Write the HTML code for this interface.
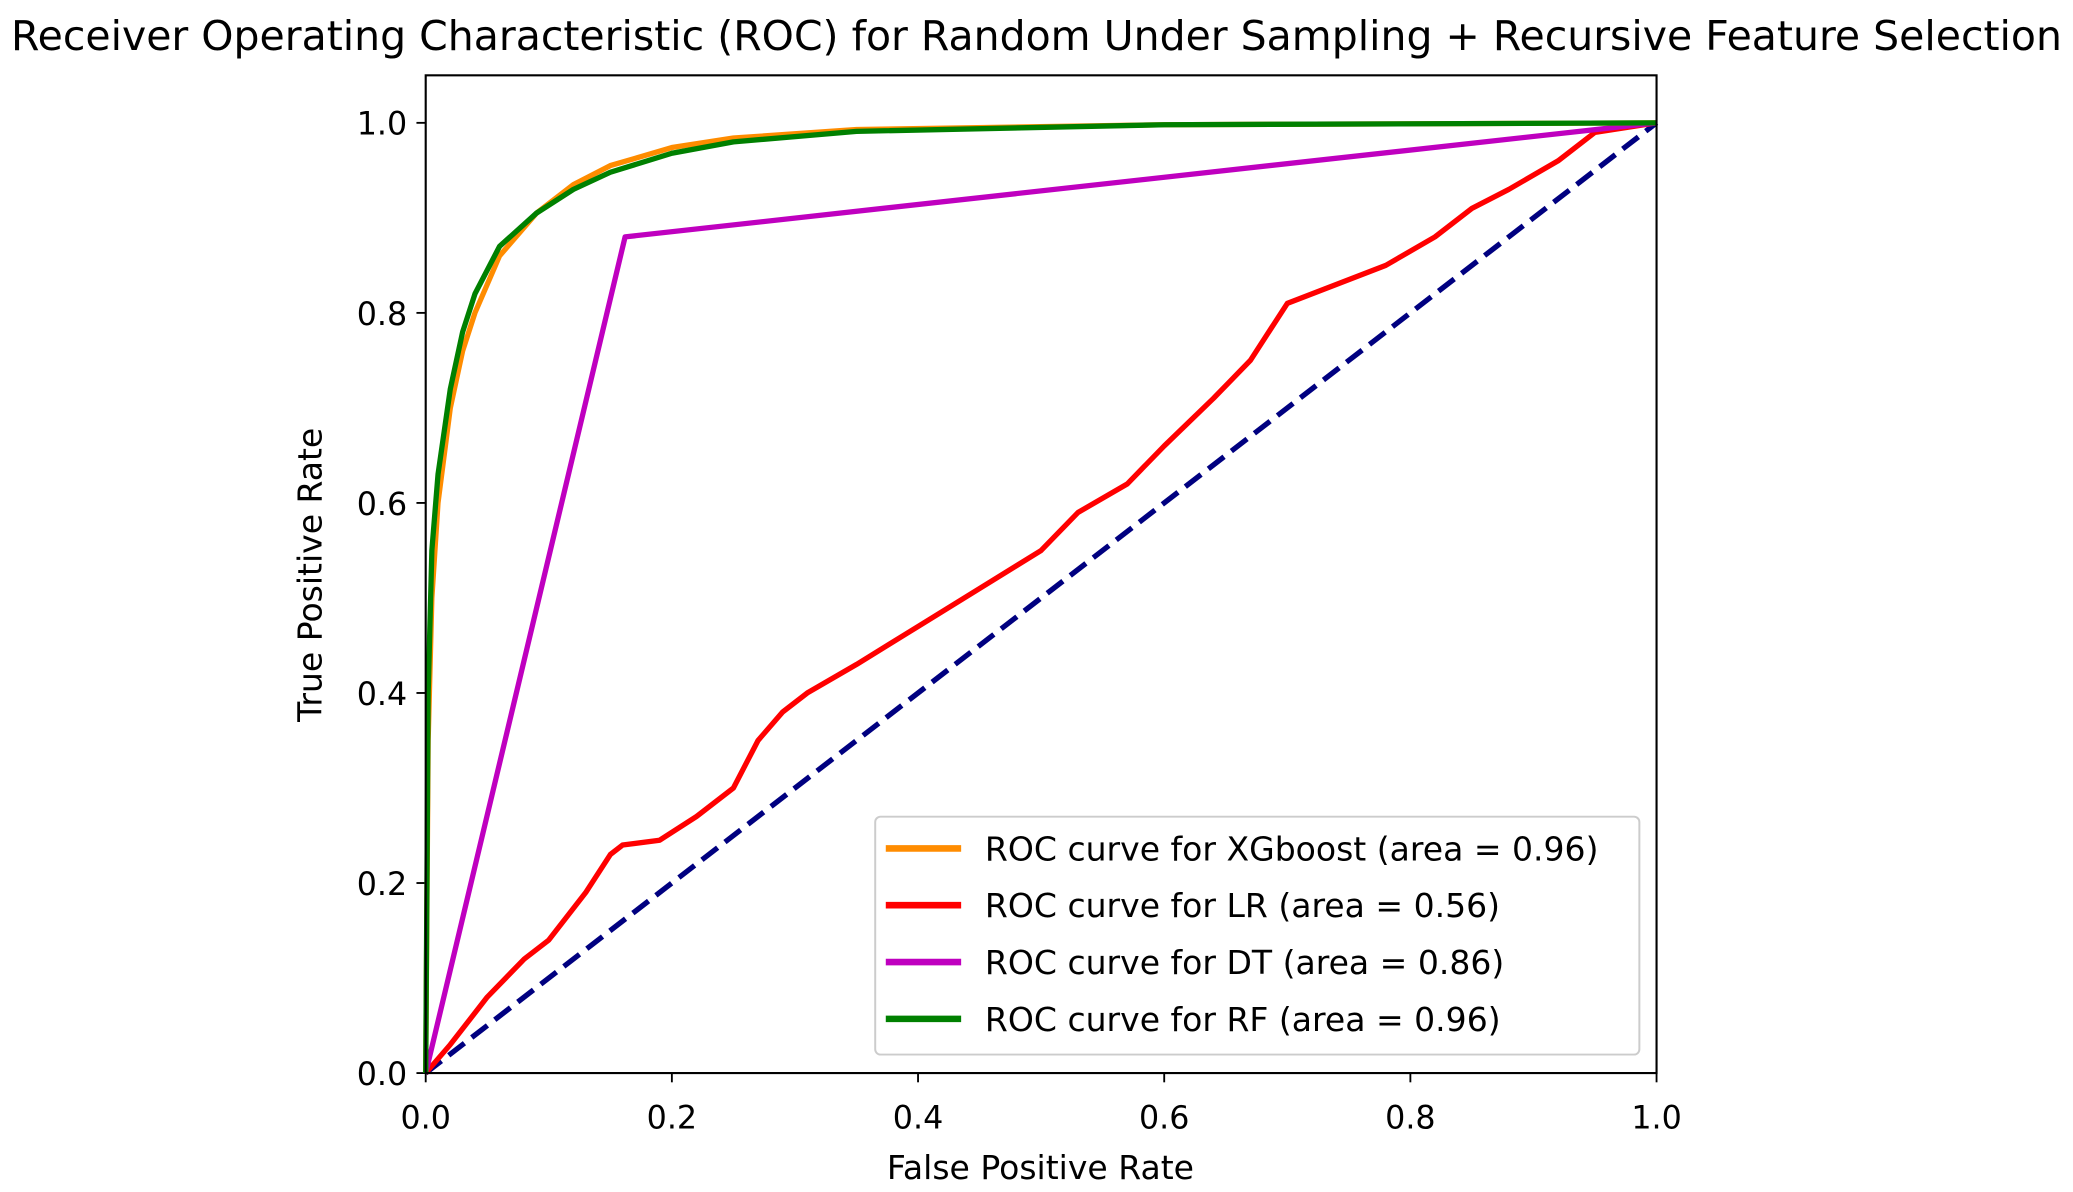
<!DOCTYPE html>
<html><head><meta charset="utf-8"><style>
html,body{margin:0;padding:0;background:#fff;}
svg{display:block;font-family:"DejaVu Sans","Liberation Sans",sans-serif;}
</style></head><body>
<svg id="chart" width="2073" height="1192" viewBox="0 0 1568 902" preserveAspectRatio="none" xmlns="http://www.w3.org/2000/svg">
<text x="784" y="38" text-anchor="middle" font-size="31" fill="#000">Receiver Operating Characteristic (ROC) for Random Under Sampling + Recursive Feature Selection</text>
<g id="ticks"></g>
<g id="series"></g>
<rect x="322" y="57" width="931" height="755" fill="none" stroke="#000" stroke-width="1.6"/>
<text x="787" y="892" text-anchor="middle" font-size="25">False Positive Rate</text>
<text transform="translate(243,435) rotate(-90)" text-anchor="middle" font-size="25">True Positive Rate</text>
<g>
<rect x="662" y="618" width="578" height="180" rx="4" fill="#fff" fill-opacity="0.85" stroke="#ccc" stroke-width="1.5"/>
<g id="legend-items"></g>
</g>
</svg>
<script>
const xTicks=[0,0.2,0.4,0.6,0.8,1.0];
const yTicks=[0,0.2,0.4,0.6,0.8,1.0];
const xgbFpr=[0,0.002,0.005,0.01,0.02,0.03,0.04,0.06,0.09,0.12,0.15,0.2,0.25,0.35,0.6,1];
const xgbTpr=[0,0.35,0.5,0.6,0.7,0.76,0.8,0.86,0.905,0.935,0.955,0.974,0.984,0.993,0.998,1];
const rfFpr=[0,0.002,0.005,0.01,0.02,0.03,0.04,0.06,0.09,0.12,0.15,0.2,0.25,0.35,0.6,1];
const rfTpr=[0,0.4,0.55,0.63,0.72,0.78,0.82,0.87,0.905,0.93,0.948,0.968,0.98,0.991,0.998,1];
const lrFpr=[0,0.02,0.05,0.08,0.1,0.13,0.15,0.16,0.19,0.22,0.25,0.27,0.29,0.31,0.35,0.4,0.45,0.5,0.53,0.57,0.6,0.64,0.67,0.69,0.7,0.74,0.78,0.82,0.85,0.88,0.92,0.95,1];
const lrTpr=[0,0.03,0.08,0.12,0.14,0.19,0.23,0.24,0.245,0.27,0.3,0.35,0.38,0.4,0.43,0.47,0.51,0.55,0.59,0.62,0.66,0.71,0.75,0.79,0.81,0.83,0.85,0.88,0.91,0.93,0.96,0.99,1];
const dtFpr=[0,0.162,1];
const dtTpr=[0,0.88,1];
const diagFpr=[0,1];
const diagTpr=[0,1];
const legendLabels=["ROC curve for XGboost (area = 0.96)","ROC curve for LR (area = 0.56)","ROC curve for DT (area = 0.86)","ROC curve for RF (area = 0.96)"];

const NS="http://www.w3.org/2000/svg";
const X=v=>322+v*931;
const Y=v=>812-v/1.05*755;
const tg=document.getElementById('ticks');
xTicks.forEach(t=>{
  const l=document.createElementNS(NS,'line');
  
  
  l.setAttribute('x1',X(t));l.setAttribute('x2',X(t));l.setAttribute('y1',812);l.setAttribute('y2',819);l.setAttribute('stroke','#000');l.setAttribute('stroke-width','1.4');
  tg.appendChild(l);
  const s=document.createElementNS(NS,'text');
  
  
  s.setAttribute('x',X(t));s.setAttribute('y',854);s.setAttribute('text-anchor','middle');s.setAttribute('font-size','24');
  s.textContent=t.toFixed(1);tg.appendChild(s);
});
yTicks.forEach(t=>{
  const l=document.createElementNS(NS,'line');
  
  
  l.setAttribute('x1',315);l.setAttribute('x2',322);l.setAttribute('y1',Y(t));l.setAttribute('y2',Y(t));l.setAttribute('stroke','#000');l.setAttribute('stroke-width','1.4');
  tg.appendChild(l);
  const s=document.createElementNS(NS,'text');
  
  
  s.setAttribute('x',308);s.setAttribute('y',Y(t)+9);s.setAttribute('text-anchor','end');s.setAttribute('font-size','24');
  s.textContent=t.toFixed(1);tg.appendChild(s);
});
const sg=document.getElementById('series');
function line(xs,ys,color,name,dash){
  const p=document.createElementNS(NS,'polyline');
  
  
  p.setAttribute('points',xs.map((x,i)=>X(x)+','+Y(ys[i])).join(' '));
  p.setAttribute('fill','none');p.setAttribute('stroke',color);p.setAttribute('stroke-width','4');
  p.setAttribute('stroke-linejoin','round');
  if(dash)p.setAttribute('stroke-dasharray',dash);
  sg.appendChild(p);
}
line(diagFpr,diagTpr,'#000080','diagonal-reference-line','15,7');
line(lrFpr,lrTpr,'#ff0000','lr-curve');
line(dtFpr,dtTpr,'#bf00bf','dt-curve');
line(xgbFpr,xgbTpr,'#ff8c00','xgboost-curve');
line(rfFpr,rfTpr,'#008000','rf-curve');
const colors=['#ff8c00','#ff0000','#bf00bf','#008000'];
const lg=document.getElementById('legend-items');
legendLabels.forEach((lab,i)=>{
  const y=642+i*43;
  const l=document.createElementNS(NS,'line');
  
  
  l.setAttribute('x1',670);l.setAttribute('x2',727);l.setAttribute('y1',y);l.setAttribute('y2',y);l.setAttribute('stroke',colors[i]);l.setAttribute('stroke-width','5');
  lg.appendChild(l);
  const s=document.createElementNS(NS,'text');
  
  
  s.setAttribute('x',745);s.setAttribute('y',y+9);s.setAttribute('font-size','25');
  s.textContent=lab;lg.appendChild(s);
});
</script>
</body></html>
